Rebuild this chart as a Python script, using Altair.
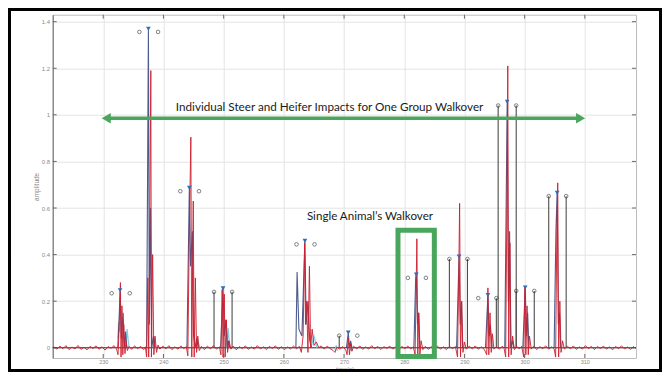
import altair as alt
import pandas as pd

# ---------------- data ----------------
x_ticks = [230, 240, 250, 260, 270, 280, 290, 300, 310]
y_ticks = [0, 0.2, 0.4, 0.6, 0.8, 1, 1.2, 1.4]

red_trace = [
    (221.8, 0.004), (222.3, -0.006), (222.8, 0.007), (223.3, -0.004), (223.8, 0.009), (224.3, -0.008),
    (224.8, 0.003), (225.3, -0.005), (225.8, 0.010), (226.3, -0.007), (226.8, 0.002), (227.3, -0.009),
    (227.8, 0.006), (228.3, -0.003), (228.8, 0.008), (229.3, -0.006), (229.8, 0.004), (230.3, -0.010),
    (230.8, 0.005), (231.3, -0.002), (231.8, 0.009), (232.2, -0.005),
    (232.45, -0.03), (232.6, 0.06), (232.7, 0.14), (232.85, 0.28), (232.95, -0.04), (233.1, 0.18),
    (233.25, -0.03), (233.4, 0.1), (233.6, -0.025), (233.8, 0.03), (234.0, -0.012), (234.3, 0.006),
    (234.7, -0.007), (235.2, 0.008), (235.7, -0.004), (236.2, 0.006), (236.7, -0.008), (237.0, 0.004),
    (237.2, -0.04), (237.4, 0.3), (237.55, -0.04), (237.8, 0.8), (237.9, 1.19), (238.0, -0.04),
    (238.2, 0.4), (238.4, -0.03), (238.6, 0.05), (238.85, -0.02), (239.1, 0.012), (239.4, -0.006),
    (239.9, 0.007), (240.4, -0.005), (240.9, 0.009), (241.4, -0.008), (241.9, 0.004), (242.4, -0.006),
    (242.9, 0.008), (243.4, -0.004), (243.8, 0.005),
    (244.05, -0.035), (244.3, 0.5), (244.55, 0.904), (244.7, -0.04), (244.95, 0.63), (245.1, -0.04),
    (245.3, 0.3), (245.5, -0.02), (245.7, 0.05), (245.95, -0.012), (246.3, 0.006),
    (246.8, -0.008), (247.3, 0.007), (247.8, -0.005), (248.3, 0.009), (248.8, -0.006), (249.3, 0.004),
    (249.55, -0.03), (249.75, 0.25), (249.9, -0.04), (250.1, 0.23), (250.25, -0.04), (250.45, 0.12),
    (250.65, -0.02), (250.9, 0.03), (251.2, -0.006),
    (251.6, 0.007), (252.1, -0.009), (252.6, 0.005), (253.1, -0.004), (253.6, 0.008), (254.1, -0.007),
    (254.6, 0.003), (255.1, -0.006), (255.6, 0.009), (256.1, -0.005), (256.6, 0.004), (257.1, -0.008),
    (257.6, 0.006), (258.1, -0.003), (258.6, 0.008), (259.1, -0.007), (259.6, 0.005), (260.1, -0.009),
    (260.6, 0.004), (261.1, -0.005), (261.6, 0.007), (262.1, -0.004), (262.6, 0.006),
    (262.9, -0.02), (263.2, 0.05), (263.45, 0.45), (263.6, 0.1), (263.8, 0.2), (264.0, -0.02),
    (264.25, 0.35), (264.45, 0.0), (264.7, 0.08), (265.0, 0.01), (265.4, 0.025), (265.8, 0.0), (266.2, 0.008),
    (266.7, -0.006), (267.2, 0.007), (267.7, -0.004), (268.2, -0.012), (268.5, -0.02), (268.8, 0.003),
    (269.3, -0.006), (269.8, 0.005), (270.3, -0.01),
    (270.5, -0.03), (270.7, 0.04), (270.9, -0.03), (271.1, 0.02), (271.3, -0.015), (271.6, 0.006),
    (272.1, -0.005), (272.6, 0.008), (273.1, -0.007), (273.6, 0.004), (274.1, -0.006), (274.6, 0.009),
    (275.1, -0.004), (275.6, 0.006), (276.1, -0.008), (276.6, 0.005), (277.1, -0.003), (277.6, 0.007),
    (278.1, -0.006), (278.6, 0.004), (279.1, -0.008), (279.6, 0.006), (280.1, -0.004), (280.6, 0.007),
    (281.1, -0.005), (281.5, 0.004),
    (281.8, -0.03), (282.0, 0.3), (282.1, 0.468), (282.25, -0.04), (282.4, 0.15), (282.6, -0.03),
    (282.8, 0.03), (283.1, -0.008), (283.5, 0.006),
    (284.0, -0.007), (284.5, 0.005), (285.0, -0.004), (285.5, 0.008), (286.0, -0.006), (286.5, 0.004),
    (287.0, -0.008), (287.5, 0.006), (288.0, -0.004), (288.5, 0.005),
    (288.85, -0.04), (289.05, 0.3), (289.2, 0.62), (289.35, -0.04), (289.55, 0.2), (289.75, -0.02),
    (290.0, 0.025), (290.3, -0.006),
    (290.8, 0.007), (291.3, -0.005), (291.8, 0.008), (292.3, -0.006), (292.8, 0.004), (293.3, -0.007),
    (293.7, -0.03), (293.9, 0.257), (294.05, -0.03), (294.25, 0.15), (294.45, -0.02), (294.65, 0.06),
    (294.9, -0.006), (295.3, 0.005),
    (295.8, -0.006), (296.3, 0.007), (296.6, -0.004),
    (296.85, -0.04), (297.05, 0.6), (297.2, 1.21), (297.35, -0.04), (297.55, 0.45), (297.75, -0.03),
    (298.0, 0.05), (298.3, -0.008), (298.7, 0.006),
    (299.1, -0.005), (299.5, 0.006),
    (299.85, -0.04), (300.05, 0.26), (300.2, -0.03), (300.4, 0.18), (300.6, -0.03), (300.8, 0.05),
    (301.1, -0.006), (301.5, 0.007),
    (302.0, -0.008), (302.5, 0.005), (303.0, -0.004), (303.5, 0.008), (304.0, -0.006), (304.5, 0.004),
    (304.9, -0.005),
    (305.15, -0.04), (305.35, 0.5), (305.5, 0.708), (305.65, -0.04), (305.85, 0.2), (306.05, -0.02),
    (306.3, 0.03), (306.6, -0.006),
    (307.1, 0.007), (307.6, -0.005), (308.1, 0.008), (308.6, -0.007), (309.1, 0.004), (309.6, -0.006),
    (310.1, 0.009), (310.6, -0.004), (311.1, 0.006), (311.6, -0.008), (312.1, 0.005), (312.6, -0.003),
    (313.1, 0.007), (313.6, -0.006), (314.1, 0.004), (314.6, -0.009), (315.1, 0.006), (315.6, -0.004),
    (316.1, 0.008), (316.6, -0.005), (317.1, 0.003), (317.6, -0.007), (318.1, 0.005), (318.4, -0.003),
]

blue_segments = [
    [(232.4, 0), (232.6, 0.10), (232.8, 0.247), (233.0, 0.04), (233.3, 0.15), (233.5, 0.0), (233.7, 0.07), (233.9, 0.0)],
    [(237.2, 0), (237.5, 1.37), (237.65, 0.1), (237.85, 0.6), (238.05, 0.0), (238.35, 0.05), (238.6, 0.0)],
    [(243.9, 0), (244.3, 0.687), (244.5, 0.35), (244.8, 0.5), (245.0, 0.05), (245.3, 0.0), (245.5, 0.04), (245.8, 0.0)],
    [(249.5, 0), (249.9, 0.255), (250.1, 0.05), (250.35, 0.12), (250.6, 0.0), (250.8, 0.03), (251.0, 0.0)],
    [(262.0, 0), (262.2, 0.325), (262.5, 0.08), (263.0, 0.05), (263.5, 0.459), (263.7, 0.1), (264.0, 0.2), (264.3, 0.03), (264.6, 0.0)],
    [(270.4, 0), (270.7, 0.065), (270.9, 0.0), (271.1, 0.03), (271.3, 0.0)],
    [(281.6, 0), (281.9, 0.3), (282.0, 0.314), (282.2, 0.1), (282.4, 0.15), (282.6, 0.0)],
    [(288.7, 0), (289.1, 0.392), (289.3, 0.1), (289.5, 0.2), (289.7, 0.0)],
    [(293.5, 0), (293.9, 0.226), (294.1, 0.05), (294.3, 0.1), (294.6, 0.0)],
    [(296.7, 0), (297.1, 1.056), (297.3, 0.2), (297.5, 0.5), (297.7, 0.0), (298.0, 0.03), (298.2, 0.0)],
    [(299.7, 0), (300.1, 0.259), (300.3, 0.05), (300.5, 0.15), (300.7, 0.0)],
    [(304.9, 0), (305.2, 0.5), (305.4, 0.665), (305.6, 0.1), (305.8, 0.15), (306.0, 0.0)],
]

cyan_segments = [
    [(232.45, 0.04), (232.55, 0.11), (232.7, 0.07)],
    [(233.75, 0.0), (233.95, 0.08), (234.15, 0.03), (234.3, 0.0)],
    [(238.3, 0.0), (238.5, 0.04), (238.7, 0.0)],
    [(245.4, 0.0), (245.7, 0.03), (246.0, 0.0)],
    [(250.5, 0.0), (250.75, 0.085), (251.0, 0.0)],
    [(264.5, 0.0), (265.0, 0.05), (265.5, 0.0)],
    [(268.5, -0.012), (268.7, 0.01), (268.9, -0.012)],
    [(271.0, -0.012), (271.2, 0.015), (271.4, -0.012)],
    [(297.5, 0.0), (297.65, 0.035), (297.8, 0.0)],
]

peak_t = [232.8, 237.5, 244.3, 249.9, 263.5, 270.7, 282.0, 289.1, 293.9, 297.1, 300.1, 305.4]
peak_v = [0.247, 1.37, 0.687, 0.255, 0.459, 0.065, 0.314, 0.392, 0.226, 1.056, 0.259, 0.665]

circle_t = [231.4, 234.4, 236.0, 239.1, 242.8, 245.9, 248.4, 251.4, 262.1, 265.1, 269.2, 272.2,
            280.6, 283.6, 287.5, 290.5, 292.3, 295.3, 295.6, 298.6, 298.6, 301.6, 304.0, 306.9]
circle_v = [0.234, 0.234, 1.356, 1.356, 0.672, 0.672, 0.24, 0.24, 0.444, 0.444, 0.052, 0.052,
            0.30, 0.30, 0.381, 0.381, 0.213, 0.213, 1.04, 1.04, 0.244, 0.244, 0.651, 0.651]
circle_stem = [0, 0, 0, 0, 0, 0, 1, 1, 0, 0, 1, 0,
               0, 0, 1, 1, 0, 1, 1, 1, 1, 1, 1, 1]

arrow_t = [230.9, 308.9]
arrow_v = [0.985, 0.985]
arrowhead_t = [230.5, 309.3]
arrowhead_shape = ["triangle-left", "triangle-right"]

box_t = [278.96, 285.0]
box_v = [-0.038, 0.505]

note_text = ["Individual Steer and Heifer Impacts for One Group Walkover", "Single Animal\u2019s Walkover"]
note_t = [267.6, 274.3]
note_v = [1.033, 0.561]
note_size = [11.7, 11.6]

# ---------------- layout ----------------
W, H = 583.3, 343.3
PAD = {"left": 44.7, "top": 6.7, "right": 26, "bottom": 14}
GREEN = "#4aa65c"

xs = alt.Scale(domain=[221.6, 318.5], nice=False, zero=False)
ys = alt.Scale(domain=[-0.044, 1.43], nice=False, zero=False)
AX = alt.Axis(values=x_ticks, title="time(s)", grid=True, domain=False, ticks=False,
              labelFontSize=5.5, labelColor="#8a8a8a", labelPadding=1.5,
              titleFontSize=6, titleColor="#8a8a8a", titleFontWeight="normal", titlePadding=0)
AY = alt.Axis(values=y_ticks, title="amplitude", grid=True, domain=True, domainColor="#6a6a6a",
              ticks=False, format="~g", labelFontSize=6, labelColor="#8a8a8a", labelPadding=3,
              titleFontSize=6.5, titleColor="#8a8a8a", titleFontWeight="normal", titlePadding=2)

X = alt.X("t:Q", scale=xs, axis=AX)
Y = alt.Y("v:Q", scale=ys, axis=AY)

red_df = pd.DataFrame(red_trace, columns=["t", "v"])
red_df["i"] = range(len(red_df))
blue_rows = []
for k, seg in enumerate(blue_segments):
    for j, (t, v) in enumerate(seg):
        blue_rows.append({"t": t, "v": v, "seg": k, "i": j})
blue_df = pd.DataFrame(blue_rows)
cyan_rows = []
for k, seg in enumerate(cyan_segments):
    for j, (t, v) in enumerate(seg):
        cyan_rows.append({"t": t, "v": v, "seg": k, "i": j})
cyan_df = pd.DataFrame(cyan_rows)
peak_df = pd.DataFrame({"t": peak_t, "v": peak_v})
circ_df = pd.DataFrame({"t": circle_t, "v": circle_v, "stem": circle_stem})
stem_df = circ_df[circ_df["stem"] == 1].assign(v0=0.0)
yt_df = pd.DataFrame({"v": y_ticks})
xt_df = pd.DataFrame({"t": x_ticks})
zero_df = pd.DataFrame({"v": [0.0]})
arrow_df = pd.DataFrame({"t": arrow_t, "v": arrow_v})
head_df = pd.DataFrame({"t": arrowhead_t, "v": arrow_v, "shape": arrowhead_shape})
box_df = pd.DataFrame({"t": [box_t[0]], "t2": [box_t[1]], "v": [box_v[0]], "v2": [box_v[1]]})
note_df = pd.DataFrame({"t": note_t, "v": note_v, "txt": note_text, "fs": note_size})
one = alt.Data(values=[{"a": 1}])

# inward tick marks (MATLAB style)
tick_left = alt.Chart(yt_df).mark_rule(color="#6a6a6a", strokeWidth=1).encode(
    y=Y, x=alt.value(0), x2=alt.value(4))
tick_right = alt.Chart(yt_df).mark_rule(color="#6a6a6a", strokeWidth=1).encode(
    y=Y, x=alt.value(W - 4), x2=alt.value(W))
tick_top = alt.Chart(xt_df).mark_rule(color="#6a6a6a", strokeWidth=1).encode(
    x=X, y=alt.value(0), y2=alt.value(4))
tick_bottom = alt.Chart(xt_df).mark_rule(color="#6a6a6a", strokeWidth=1).encode(
    x=X, y=alt.value(H - 4), y2=alt.value(H))

zero_line = alt.Chart(zero_df).mark_rule(color="#333333", strokeWidth=1).encode(y=Y)

stems = alt.Chart(stem_df).mark_rule(color="#4d4d4d", strokeWidth=1.1).encode(
    x=X, y=Y, y2=alt.Y2("v0:Q"))

cyan = alt.Chart(cyan_df).mark_line(color="#86cfe3", strokeWidth=1.3).encode(
    x=X, y=Y, detail="seg:N", order="i:Q")
blue = alt.Chart(blue_df).mark_line(color="#2d3f78", strokeWidth=1.1, opacity=0.85).encode(
    x=X, y=Y, detail="seg:N", order="i:Q")
red = alt.Chart(red_df).mark_line(color="#cc1f2e", strokeWidth=1.0, opacity=0.9).encode(
    x=X, y=Y, order="i:Q")

circles = alt.Chart(circ_df).mark_point(shape="circle", size=13, color="#222222",
                                         strokeWidth=0.8, filled=False).encode(x=X, y=Y)
tris = alt.Chart(peak_df).mark_point(shape="triangle-down", size=22, color="#2f6db5",
                                     filled=True, opacity=1).encode(x=X, y=Y)

arrow = alt.Chart(arrow_df).mark_line(color=GREEN, strokeWidth=3.5).encode(x=X, y=Y)
heads = alt.Chart(head_df).mark_point(filled=True, size=110, color=GREEN, opacity=1).encode(
    x=X, y=Y, shape=alt.Shape("shape:N", scale=None, legend=None))

box = alt.Chart(box_df).mark_rect(fillOpacity=0, stroke=GREEN, strokeWidth=5).encode(
    x=X, x2=alt.X2("t2:Q"), y=Y, y2=alt.Y2("v2:Q"))

notes = alt.Chart(note_df).mark_text(font="Lato", color="#1a1a1a").encode(
    x=X, y=Y, text="txt:N", size=alt.Size("fs:Q", scale=None, legend=None))

frame = alt.Chart(one).mark_rect(fillOpacity=0, stroke="#000000", strokeWidth=3).encode(
    x=alt.value(-PAD["left"] + 1.5), x2=alt.value(W + PAD["right"] - 1.5),
    y=alt.value(-PAD["top"] + 1.5), y2=alt.value(H + PAD["bottom"] - 1.5))

chart = alt.layer(
    tick_left, tick_right, tick_top, tick_bottom, zero_line, stems, cyan, blue, red,
    circles, tris, arrow, heads, box, notes, frame
).properties(
    width=W, height=H, padding=PAD, autosize=alt.AutoSizeParams(type="none"),
    background="white"
).configure_view(stroke="#bdbdbd", strokeWidth=1).configure_axis(
    gridColor="#e4e4e4", gridWidth=1, labelFont="Liberation Sans", titleFont="Liberation Sans"
)

chart.save("out.html", embed_options={"renderer": "svg", "actions": False})
